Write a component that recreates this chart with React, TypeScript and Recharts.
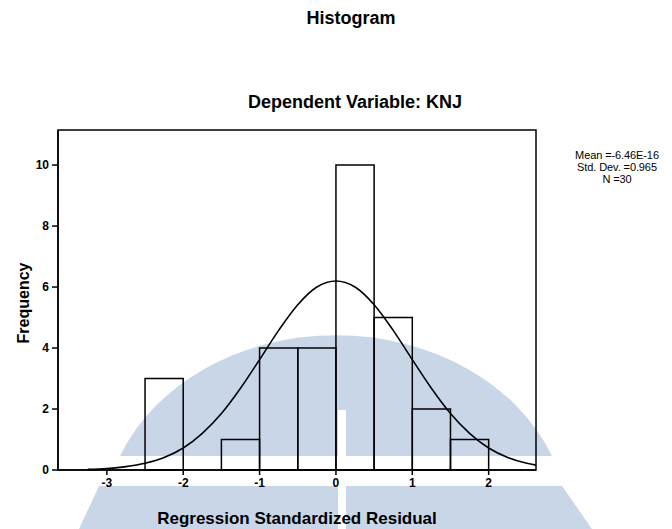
import { ComposedChart, Line, XAxis, YAxis, ReferenceArea } from "recharts";

const binStarts = [-2.5, -2.0, -1.5, -1.0, -0.5, 0.0, 0.5, 1.0, 1.5];
const binCounts = [3, 0, 1, 4, 4, 10, 5, 2, 1];
const binWidth = 0.5;

// normal curve
const curveX = [
  -3.25, -3.0, -2.75, -2.5, -2.25, -2.0, -1.75, -1.5, -1.25, -1.0, -0.75, -0.5, -0.25, 0,
  0.25, 0.5, 0.75, 1.0, 1.25, 1.5, 1.75, 2.0, 2.25, 2.5, 2.62,
];
const curveY = [
  0.02, 0.05, 0.11, 0.22, 0.41, 0.72, 1.2, 1.85, 2.68, 3.62, 4.58, 5.42, 6.0, 6.2,
  6.0, 5.42, 4.58, 3.62, 2.68, 1.85, 1.2, 0.72, 0.41, 0.22, 0.16,
];

const xTicks = [-3, -2, -1, 0, 1, 2];
const yTicks = [0, 2, 4, 6, 8, 10];
const xDomain = [-3.64, 2.62];
const yDomain = [0, 11.15];

const statsLines = ["Mean =-6.46E-16", "Std. Dev. =0.965", "N =30"];

const font = "'Liberation Sans', Arial, sans-serif";

export default function App() {
  const curveData = curveX.map((x, i) => ({ x, curve: curveY[i] }));
  const tickStyle = { fill: "#000", fontSize: 12, fontWeight: "bold", fontFamily: font };

  return (
    <div style={{ position: "absolute", left: 0, top: 0, width: 672, height: 529, background: "#fff", fontFamily: font }}>
      {/* faint watermark from the scan */}
      <svg width={672} height={529} style={{ position: "absolute", left: 0, top: 0 }}>
        <path d="M120,456 A 232 190 0 0 1 552 456 Z" fill="#c8d6e8" />
        <path d="M99,486 L562,486 L592,529 L79,529 Z" fill="#c8d6e8" />
        <rect x={338} y={410} width={8} height={119} fill="#fff" />
      </svg>

      <div style={{ position: "absolute", left: 0, top: 0 }}>
        <ComposedChart
          width={672}
          height={529}
          data={curveData}
          margin={{ top: 130, right: 136, bottom: 29, left: 18 }}
        >
          <XAxis
            dataKey="x"
            type="number"
            domain={xDomain}
            allowDataOverflow
            ticks={xTicks}
            tick={tickStyle}
            tickSize={5}
            tickMargin={3}
            height={30}
            stroke="#000"
            strokeWidth={1.5}
          />
          <YAxis
            type="number"
            domain={yDomain}
            allowDataOverflow
            ticks={yTicks}
            tick={tickStyle}
            tickSize={6}
            tickMargin={3}
            width={40}
            stroke="#000"
            strokeWidth={1.5}
          />
          <ReferenceArea
            x1={xDomain[0]}
            x2={xDomain[1]}
            y1={yDomain[0]}
            y2={yDomain[1]}
            fill="none"
            stroke="#000"
            strokeWidth={1.5}
            ifOverflow="visible"
          />
          {binStarts.map((s, i) =>
            binCounts[i] > 0 ? (
              <ReferenceArea
                key={s}
                x1={s}
                x2={s + binWidth}
                y1={0}
                y2={binCounts[i]}
                fill="none"
                stroke="#000"
                strokeWidth={1.5}
                ifOverflow="visible"
              />
            ) : null
          )}
          <Line
            dataKey="curve"
            type="monotone"
            stroke="#000"
            strokeWidth={1.6}
            dot={false}
            activeDot={false}
            isAnimationActive={false}
          />
        </ComposedChart>
      </div>

      <svg width={672} height={529} style={{ position: "absolute", left: 0, top: 0, pointerEvents: "none" }}>
        <g fontFamily={font} fill="#000">
          <text x={351} y={24} textAnchor="middle" fontSize={18} fontWeight="bold">Histogram</text>
          <text x={355} y={108} textAnchor="middle" fontSize={18} fontWeight="bold">Dependent Variable: KNJ</text>
          {statsLines.map((t, i) => (
            <text key={t} x={617} y={159 + i * 12} textAnchor="middle" fontSize={11} letterSpacing={-0.1}>
              {t}
            </text>
          ))}
          <text x={29} y={303} textAnchor="middle" fontSize={16} fontWeight="bold" transform="rotate(-90 29 303)">
            Frequency
          </text>
          <text x={297} y={524} textAnchor="middle" fontSize={17} fontWeight="bold">
            Regression Standardized Residual
          </text>
        </g>
      </svg>
    </div>
  );
}
